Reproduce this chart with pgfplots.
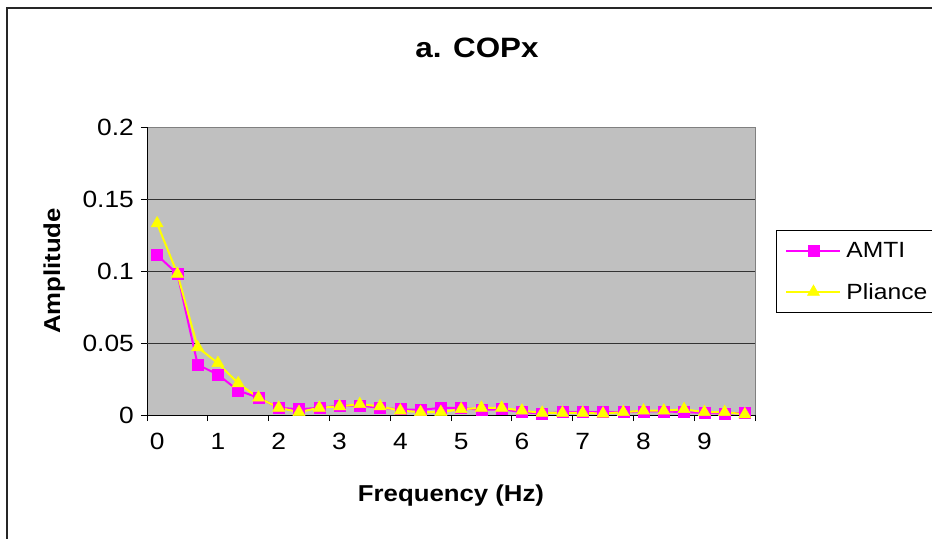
\documentclass[border=0pt]{standalone}
\usepackage{fontspec}
\setmainfont{Liberation Sans}[FakeStretch=1.12]
\usepackage{pgfplots}
\pgfplotsset{compat=1.18}
\usepackage{pgfplotstable}
\definecolor{plotgray}{HTML}{C0C0C0}
\definecolor{bordergray}{HTML}{808080}
\definecolor{amti}{HTML}{FF00FF}
\definecolor{pliance}{HTML}{FFFF00}

\pgfplotstableread{
i  f        amti    pliance
0  0.00000  0.111   0.133
1  0.33333  0.098   0.098
2  0.66667  0.035   0.047
3  1.00000  0.028   0.036
4  1.33333  0.017   0.022
5  1.66667  0.012   0.012
6  2.00000  0.005   0.005
7  2.33333  0.004   0.002
8  2.66667  0.005   0.005
9  3.00000  0.0065  0.006
10 3.33333  0.0065  0.0075
11 3.66667  0.005   0.006
12 4.00000  0.004   0.003
13 4.33333  0.0035  0.002
14 4.66667  0.005   0.002
15 5.00000  0.005   0.004
16 5.33333  0.0035  0.005
17 5.66667  0.004   0.005
18 6.00000  0.002   0.003
19 6.33333  0.001   0.0015
20 6.66667  0.002   0.0015
21 7.00000  0.002   0.0015
22 7.33333  0.002   0.001
23 7.66667  0.002   0.002
24 8.00000  0.0025  0.003
25 8.33333  0.0025  0.003
26 8.66667  0.002   0.004
27 9.00000  0.0015  0.002
28 9.33333  0.001   0.002
29 9.66667  0.0015  0.0005
}\datatable

\begin{document}
\begin{tikzpicture}
\path[use as bounding box] (0bp,0bp) rectangle (932bp,-539bp);
\draw[line width=2bp, black!85] (7bp,-545bp) -- (7bp,-8bp) -- (945bp,-8bp);
\node[font=\bfseries\fontsize{28bp}{32bp}\selectfont, anchor=base] at (477bp,-57bp) {a. COPx};
\begin{axis}[
  at={(147bp,-415bp)}, anchor=south west,
  width=608bp, height=288bp, scale only axis,
  xmin=-0.166667, xmax=9.833333, ymin=0, ymax=0.2,
  axis background/.style={fill=plotgray, draw=bordergray, line width=1bp},
  axis x line*=bottom, axis y line*=left,
  axis line style={black, line width=1bp},
  tick align=outside, major tick length=6bp,
  tick style={black, line width=1bp},
  xtick={-0.166667,0.833333,1.833333,2.833333,3.833333,4.833333,5.833333,6.833333,7.833333,8.833333,9.833333},
  xticklabels={},
  extra x ticks={0,1,2,3,4,5,6,7,8,9},
  extra x tick labels={0,1,2,3,4,5,6,7,8,9},
  extra x tick style={major tick length=0pt, xticklabel style={yshift=-18bp}},
  ytick={0,0.05,0.1,0.15,0.2},
  yticklabels={0,0.05,0.1,0.15,0.2},
  extra y ticks={0.05,0.1,0.15},
  extra y tick labels={},
  extra y tick style={ymajorgrids=true, major tick length=0pt, major grid style={black!80, line width=1bp}},
  tick label style={font=\fontsize{23.5bp}{27bp}\selectfont, inner sep=0pt},
  yticklabel style={xshift=-7bp},
  /pgf/number format/assume math mode=true,
  xlabel={Frequency (Hz)},
  ylabel={Amplitude},
  label style={font=\bfseries\fontsize{23bp}{27bp}\selectfont, inner sep=0pt},
  xlabel style={at={(axis description cs:0.5,0)}, anchor=north, yshift=-70bp},
  ylabel style={at={(axis description cs:0,0.5)}, anchor=south, yshift=82bp},
  clip=false,
  legend image code/.code={\draw[#1, mark repeat=2, mark phase=2] plot coordinates {(0bp,0bp)(27bp,0bp)(54bp,0bp)};},
  legend style={at={(1.0345,0.642)}, anchor=north west, draw=black, line width=1bp, fill=white,
    font=\fontsize{22bp}{26bp}\selectfont, inner xsep=9bp, inner ysep=12bp,
    nodes={inner sep=0pt}, column sep=5bp, row sep=24bp, legend cell align=left},
]
\addplot[color=amti, line width=2bp, mark=square*, mark size=5.5bp, mark options={fill=amti, draw=amti, line width=0.5bp}] table[x=f, y=amti] {\datatable};
\addlegendentry{AMTI}
\addplot[color=pliance, line width=2bp, mark=triangle*, mark size=7bp, mark options={fill=pliance, draw=pliance, line width=0.5bp}] table[x=f, y=pliance] {\datatable};
\addlegendentry{Pliance}
\end{axis}
\end{tikzpicture}
\end{document}
